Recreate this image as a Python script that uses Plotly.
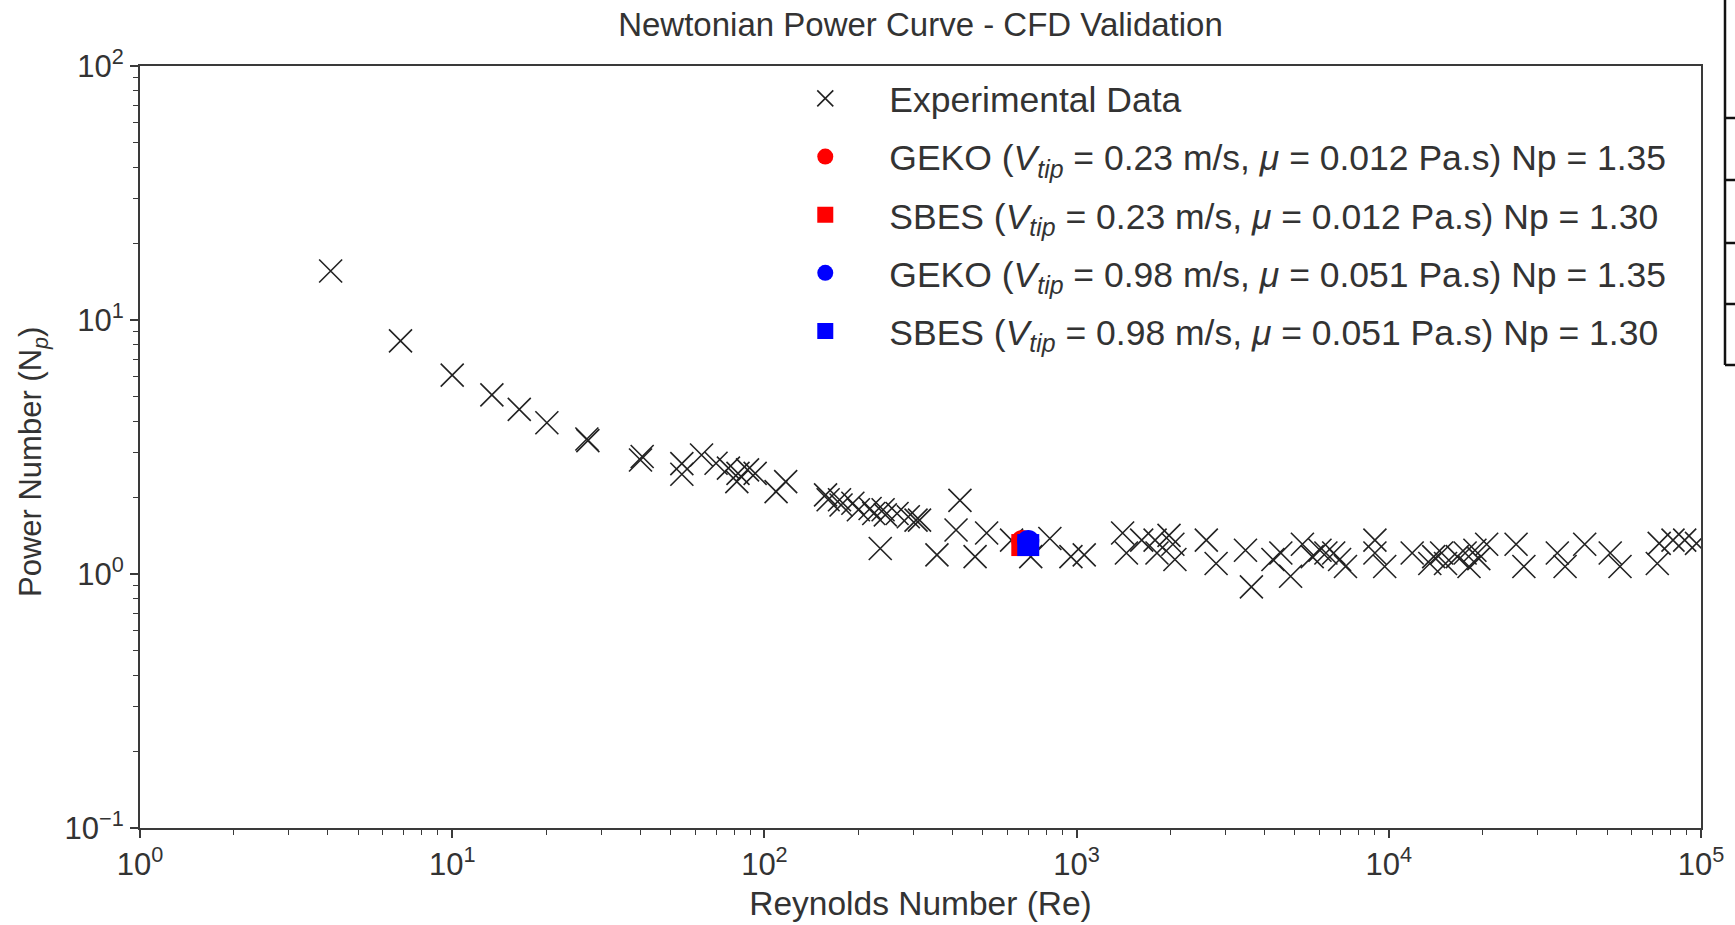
import plotly.graph_objects as go

# ---------------- data ----------------
re_exp = [4.08, 6.83, 10.0, 13.4, 16.4, 20.1, 27.0, 27.2, 40.6, 40.1,
          54.4, 54.4, 62.9, 70.0, 76.7, 82.3, 81.6, 88.3, 93.4, 109, 117,
          157, 160, 174, 176, 192, 200, 218, 224, 240, 244, 266, 289, 306, 314,
          423, 235, 357, 411, 473, 515, 619, 713, 821, 959, 1058,
          1404, 1444, 1616, 1784, 1809, 1977, 2034, 2065, 2603, 2798,
          3475, 3630, 4255, 4510, 4847, 5288, 5684, 6020, 6288, 6660, 6956, 7265,
          9027, 9027, 9703, 11882, 13530, 13925, 14765, 15195, 16573, 17556, 18070,
          18873, 19423, 20582, 25567, 27083, 34648, 36697, 42410, 51190, 55030,
          73470, 72440, 81340, 88680, 96740]
np_exp = [15.6, 8.28, 6.07, 5.07, 4.45, 3.94, 3.40, 3.35, 2.90, 2.81,
          2.72, 2.47, 2.94, 2.73, 2.61, 2.49, 2.31, 2.57, 2.49, 2.11, 2.31,
          2.05, 1.96, 1.96, 1.87, 1.90, 1.79, 1.81, 1.73, 1.79, 1.71, 1.73, 1.68, 1.63, 1.63,
          1.95, 1.26, 1.19, 1.49, 1.17, 1.45, 1.36, 1.17, 1.38, 1.17, 1.19,
          1.45, 1.21, 1.36, 1.36, 1.21, 1.42, 1.31, 1.14, 1.36, 1.10,
          1.24, 0.89, 1.14, 1.21, 0.98, 1.31, 1.17, 1.24, 1.21, 1.21, 1.14, 1.07,
          1.36, 1.21, 1.07, 1.21, 1.10, 1.17, 1.21, 1.10, 1.17, 1.21, 1.07,
          1.24, 1.15, 1.31, 1.31, 1.07, 1.21, 1.07, 1.31, 1.21, 1.07,
          1.32, 1.10, 1.36, 1.36, 1.32]

sim_names = [
    "GEKO (<i>V</i><sub><i>tip</i></sub> = 0.23 m/s, <i>μ</i> = 0.012 Pa.s) Np = 1.35",
    "SBES (<i>V</i><sub><i>tip</i></sub> = 0.23 m/s, <i>μ</i> = 0.012 Pa.s) Np = 1.30",
    "GEKO (<i>V</i><sub><i>tip</i></sub> = 0.98 m/s, <i>μ</i> = 0.051 Pa.s) Np = 1.35",
    "SBES (<i>V</i><sub><i>tip</i></sub> = 0.98 m/s, <i>μ</i> = 0.051 Pa.s) Np = 1.30",
]
sim_re = [670, 670, 700, 700]
sim_np = [1.35, 1.30, 1.35, 1.30]
sim_colors = ["#ff0000", "#ff0000", "#0000ff", "#0000ff"]
sim_symbols = ["circle", "square", "circle", "square"]

x_tickvals = [1, 10, 100, 1000, 10000, 100000]
x_ticktext = ["10<sup>0</sup>", "10<sup>1</sup>", "10<sup>2</sup>",
              "10<sup>3</sup>", "10<sup>4</sup>", "10<sup>5</sup>"]
y_tickvals = [0.1, 1, 10, 100]
y_ticktext = ["10<sup>−1</sup>", "10<sup>0</sup>", "10<sup>1</sup>", "10<sup>2</sup>"]

FONT = "Liberation Sans, Arial, Helvetica, sans-serif"
TXT = "#333333"

fig = go.Figure()
fig.add_trace(go.Scatter(
    x=re_exp, y=np_exp, mode="markers", name="Experimental Data",
    legendgroup="a",
    marker=dict(symbol="x-thin-open", size=23, color="#222222",
                line=dict(color="#222222", width=1.6)),
))
for i, (nm, rx, ny, c, s) in enumerate(zip(sim_names, sim_re, sim_np, sim_colors, sim_symbols)):
    fig.add_trace(go.Scatter(
        x=[rx], y=[ny], mode="markers", name=nm, legendgroup="g%d" % i,
        marker=dict(symbol=s, size=22, color=c, line=dict(width=0)),
    ))

axis_common = dict(
    type="log", showgrid=False, zeroline=False, automargin=False,
    showline=True, mirror=True, linecolor="#3a3a3a", linewidth=2,
    ticks="outside", ticklen=8, tickwidth=1.5, tickcolor="#3a3a3a",
    tickfont=dict(family=FONT, size=31, color=TXT),
    tickmode="array",
    minor=dict(ticks="outside", ticklen=5, tickwidth=1.2, tickcolor="#3a3a3a", dtick="D1"),
)

fig.update_xaxes(
    **axis_common, range=[0, 5], tickvals=x_tickvals, ticktext=x_ticktext,
    title=dict(text="Reynolds Number (Re)", font=dict(family=FONT, size=33.5, color=TXT), standoff=10),
)
fig.update_yaxes(
    **axis_common, range=[-1, 2], tickvals=y_tickvals, ticktext=y_ticktext,
)

# cropped table edge visible at the right side of the reference image
X0 = (1725 - 140) / 1561
X1 = (1740 - 140) / 1561
def py(p):
    return (828 - p) / 762
shapes = [dict(type="line", xref="paper", yref="paper", x0=X0, x1=X0, y0=py(-5), y1=py(365),
               line=dict(color="#111111", width=2.5))]
for hy in [118, 180, 243, 304, 365]:
    shapes.append(dict(type="line", xref="paper", yref="paper", x0=X0, x1=X1, y0=py(hy), y1=py(hy),
                       line=dict(color="#111111", width=2.5)))

fig.update_layout(
    width=1735, height=925,
    margin=dict(l=140, r=34, t=66, b=97),
    paper_bgcolor="white", plot_bgcolor="white",
    font=dict(family=FONT, color=TXT),
    title=dict(text="Newtonian Power Curve - CFD Validation", x=0.5, xref="paper",
               y=1 - 24 / 925, yanchor="middle", yref="container",
               font=dict(family=FONT, size=33, color=TXT)),
    showlegend=True,
    legend=dict(x=0.398, y=0.9963, xanchor="left", yanchor="top",
                bgcolor="rgba(255,255,255,0.9)", borderwidth=0,
                font=dict(family=FONT, size=35.5, color=TXT),
                itemwidth=118, traceorder="grouped", tracegroupgap=9),
    annotations=[dict(text="Power Number (N<sub><i>p</i></sub>)", textangle=-90,
                      xref="paper", yref="paper", x=(33 - 140) / 1561, y=(828 - 462) / 762,
                      xanchor="center", yanchor="middle", showarrow=False,
                      font=dict(family=FONT, size=31, color=TXT))],
    shapes=shapes,
)

fig.write_html("out.html")
